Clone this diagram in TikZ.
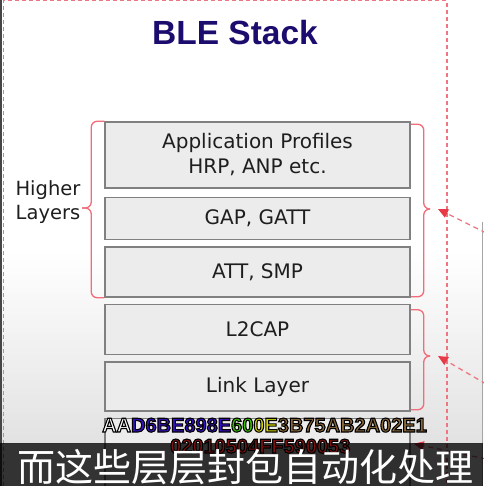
\documentclass[tikz,border=0pt]{standalone}
\usepackage{fontspec}
\setmainfont{DejaVu Sans}
\newfontfamily\titlefont{Liberation Sans}
\newfontfamily\cjkfont{Noto Sans CJK SC}
\usetikzlibrary{positioning, calc, arrows.meta}

\definecolor{titleblue}{RGB}{28,12,110}
\definecolor{boxfill}{RGB}{236,236,236}
\definecolor{boxline}{RGB}{128,128,128}
\definecolor{boxtext}{RGB}{30,30,30}
\definecolor{bracered}{RGB}{240,110,122}
\definecolor{dashred}{RGB}{238,118,128}
\definecolor{tipred}{RGB}{232,58,70}
\definecolor{bggray}{RGB}{226,226,226}
\definecolor{edgegray}{RGB}{70,70,70}
\definecolor{hexblue}{RGB}{58,16,200}
\definecolor{hexgreen}{RGB}{60,200,0}
\definecolor{hexyellow}{RGB}{215,215,0}
\definecolor{hexbrown}{RGB}{140,105,60}
\definecolor{hexred}{RGB}{125,18,18}

% coloured text with a black outline
\newcommand{\hexchunk}[2]{{\color{#1}\special{pdf:code 2 Tr 1.1 w 0 0 0 RG}#2\special{pdf:code 0 Tr}}}

\begin{document}
\begin{tikzpicture}[x=1pt, y=-1pt, node distance=6pt,
  stackbox/.style={rectangle, draw=boxline, line width=1.5pt, fill=boxfill, minimum width=305pt, inner sep=0pt, align=center, text=boxtext, font=\fontsize{20pt}{25pt}\selectfont},
  bracepath/.style={draw=bracered, line width=1.3pt, rounded corners=6pt},
  framedash/.style={draw=dashred, line width=1.2pt, dash pattern=on 4pt off 3pt},
  dasharrow/.style={dashred, line width=1.3pt, dash pattern=on 5pt off 4pt, -{Triangle[length=10pt, width=9pt, fill=tipred, color=tipred]}},
  hexline/.style={anchor=base west, inner sep=0pt, font=\titlefont\bfseries\fontsize{20pt}{20pt}\selectfont}]
  \useasboundingbox (0,0) rectangle (483,486);
  % Background
  \fill[white] (0,0) rectangle (483,486);
  \shade[top color=white, bottom color=bggray] (0,250) rectangle (483,443);
  \fill[edgegray] (0,0) rectangle (1.5,486);
  \draw[gray!70, line width=1pt] (482,222) -- (482,486);
  \draw[framedash] (3.5,486) -- (3.5,0.7) -- (447,0.7) -- (447,486);
  % Title
  \node[font=\titlefont\bfseries\fontsize{33.5pt}{36pt}\selectfont, text=titleblue] (title) at (235,33) {BLE Stack};
  % Stack
  \node[stackbox, minimum height=66pt] (appBox) at (257.5,155) {Application Profiles\\HRP, ANP etc.};
  \node[stackbox, minimum height=42pt, below=8pt of appBox] (gapBox) {GAP, GATT};
  \node[stackbox, minimum height=50pt, below=of gapBox] (attBox) {ATT, SMP};
  \node[stackbox, minimum height=50pt, below=of attBox] (l2capBox) {L2CAP};
  \node[stackbox, minimum height=49pt, below=of l2capBox] (linkBox) {Link Layer};
  \node[stackbox, minimum height=70pt, below=of linkBox] (phyBox) {};
  % Braces
  \node[font=\fontsize{19.5pt}{24pt}\selectfont, text=boxtext, align=center] (hlLabel) at (48,202) {Higher\\Layers};
  \coordinate (hlLeftTip) at (82,208);
  \coordinate (hlTip) at (430,209);
  \coordinate (llTip) at (430,356);
  \draw[bracepath] (appBox.north west) -- ++(-13,0) |- (hlLeftTip);
  \draw[bracepath] (attBox.south west) -- ++(-13,0) |- (hlLeftTip);
  \draw[bracepath] ([yshift=-3pt]appBox.north east) -- ++(13,0) |- (hlTip);
  \draw[bracepath] ([yshift=1pt]attBox.south east) -- ++(13,0) |- (hlTip);
  \draw[bracepath] ([yshift=-6pt]l2capBox.north east) -- ++(13,0) |- (llTip);
  \draw[bracepath] ([yshift=2pt]linkBox.south east) -- ++(13,0) |- (llTip);
  % Arrows from the right
  \coordinate (src1) at (486,233);
  \coordinate (src2) at (486,384);
  \coordinate (src3) at (486,459);
  \coordinate (phyIn) at ($(phyBox.north east)+(3,26)$);
  \draw[dasharrow] (src1) -- ([xshift=8pt]hlTip);
  \draw[dasharrow] (src2) -- ([xshift=8pt]llTip);
  \draw[dasharrow] (src3) -- (phyIn);
  % Overlay
  \fill[black, opacity=0.8] (0,443) rectangle (483,486);
  \node[hexline] (hexTop) at (102,432) {\hexchunk{white}{AA}\hexchunk{hexblue}{D6BE898E}\hexchunk{hexgreen}{60}\hexchunk{hexyellow}{0E}\hexchunk{hexbrown}{3B75AB2A02E1}};
  \node[hexline] (hexBottom) at (170,453) {\hexchunk{hexred}{02010504FF590053}};
  \node[font=\cjkfont\fontsize{38pt}{40pt}\selectfont, text=white, anchor=base] (subtitle) at (245,481) {而这些层层封包自动化处理};
\end{tikzpicture}
\end{document}
